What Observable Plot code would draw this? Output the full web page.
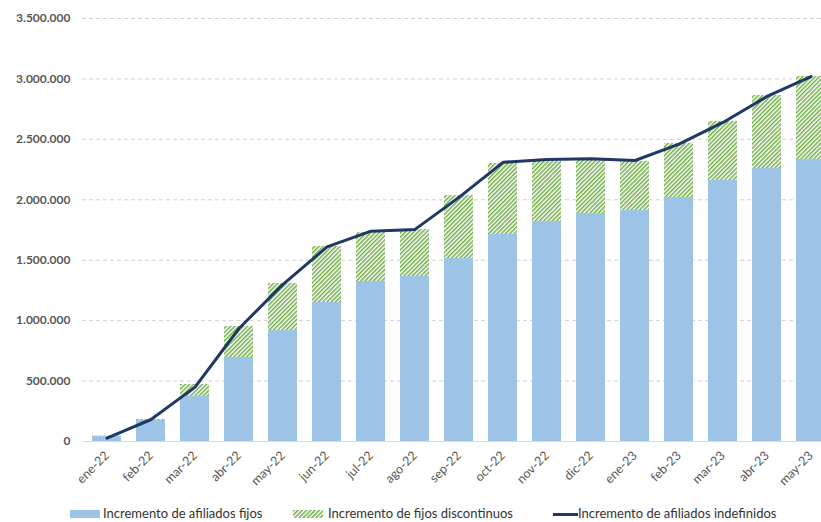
<!DOCTYPE html>
<html><head><meta charset="utf-8">
<script src="https://cdn.jsdelivr.net/npm/d3@7"></script>
<script src="https://cdn.jsdelivr.net/npm/@observablehq/plot@0.6"></script>
<style>
html,body{margin:0;padding:0;overflow:hidden;background:#fff;width:821px;height:522px;position:relative}
#chart{position:absolute;left:0;top:0;width:840px}
#chart svg{max-width:none !important}
.legend{position:absolute;top:505px;left:0;width:821px;height:16px;font-family:Lato,sans-serif;font-size:13px;color:#333}
.item{position:absolute;top:0;white-space:nowrap;height:16px;line-height:16px}
.sw{position:absolute}
</style></head><body>
<div id="chart"></div>
<div class="legend">
  <div class="sw" style="left:70px;top:5px;width:30px;height:8px;background:#9DC3E6"></div>
  <div class="item" style="left:103px">Incremento de afiliados fijos</div>
  <svg class="sw" style="left:293px;top:5px" width="30" height="8"><defs><pattern id="hatchL" width="3" height="3" patternUnits="userSpaceOnUse" patternTransform="rotate(45)"><rect width="3" height="3" fill="#fff"/><rect width="1.5" height="3" fill="#70AD47"/></pattern></defs><rect width="30" height="8" fill="url(#hatchL)"/></svg>
  <div class="item" style="left:328px">Incremento de fijos discontinuos</div>
  <div class="sw" style="left:553px;top:8px;width:25px;height:3px;background:#1F3864"></div>
  <div class="item" style="left:578px">Incremento de afiliados indefinidos</div>
</div>
<script>
const months = ["ene-22","feb-22","mar-22","abr-22","may-22","jun-22","jul-22","ago-22","sep-22","oct-22","nov-22","dic-22","ene-23","feb-23","mar-23","abr-23","may-23"];
const fijos = [41000,174000,372000,695000,918000,1150000,1324000,1365000,1514000,1713000,1820000,1886000,1911000,2019000,2160000,2259000,2333000];
const discontinuos = [4000,8000,100000,257000,389000,463000,405000,389000,521000,587000,497000,439000,406000,447000,488000,604000,687000];
const indefinidos = [28000,182000,450000,935000,1300000,1610000,1740000,1755000,2020000,2310000,2333000,2340000,2325000,2460000,2640000,2855000,3020000];
const yTicks = [0,500000,1000000,1500000,2000000,2500000,3000000,3500000];

const rows = months.map((m,i)=>({month:m, fijos:fijos[i], disc:discontinuos[i], total:fijos[i]+discontinuos[i], indef:indefinidos[i]}));
const fmt = d3.formatLocale({decimal:",", thousands:".", grouping:[3], currency:["","€"]}).format(",");

const chart = Plot.plot({
  width: 840,
  height: 500,
  marginLeft: 82,
  marginRight: 5,
  marginTop: 18,
  marginBottom: 59,
  style: {fontFamily: "Lato, sans-serif", fontSize: "12px", color: "#595959", background: "#fff", maxWidth: "none"},
  x: {domain: months, paddingInner: 0.33, paddingOuter: 0.165, label: null},
  y: {domain: [0, 3500000], label: null},
  marks: [
    Plot.gridY(yTicks.filter(d=>d>0), {stroke:"#d0d0d0", strokeOpacity:1, strokeDasharray:"4,3"}),
    Plot.ruleY([0], {stroke:"#d9d9d9"}),
    Plot.barY(rows, {x:"month", y:"fijos", fill:"#9DC3E6"}),
    Plot.barY(rows, {x:"month", y1:"fijos", y2:"total", fill:"url(#hatch)"}),
    Plot.lineY(rows, {x:"month", y:"indef", stroke:"#1F3864", strokeWidth:3}),
    Plot.axisY({ticks: yTicks, tickFormat: fmt, tickSize:0, tickPadding:12, fontWeight:"bold", fontSize:12}),
    Plot.axisX({tickRotate:-45, tickSize:0, tickPadding:12, fontSize:12.5})
  ]
});
chart.style.maxWidth = "none";
const svg = d3.select(chart);
const pat = svg.insert("defs", ":first-child").append("pattern")
  .attr("id","hatch").attr("width",3).attr("height",3)
  .attr("patternUnits","userSpaceOnUse").attr("patternTransform","rotate(45)");
pat.append("rect").attr("width",3).attr("height",3).attr("fill","#fff");
pat.append("rect").attr("width",1.5).attr("height",3).attr("fill","#70AD47");
document.getElementById("chart").appendChild(chart);
</script>
</body></html>
